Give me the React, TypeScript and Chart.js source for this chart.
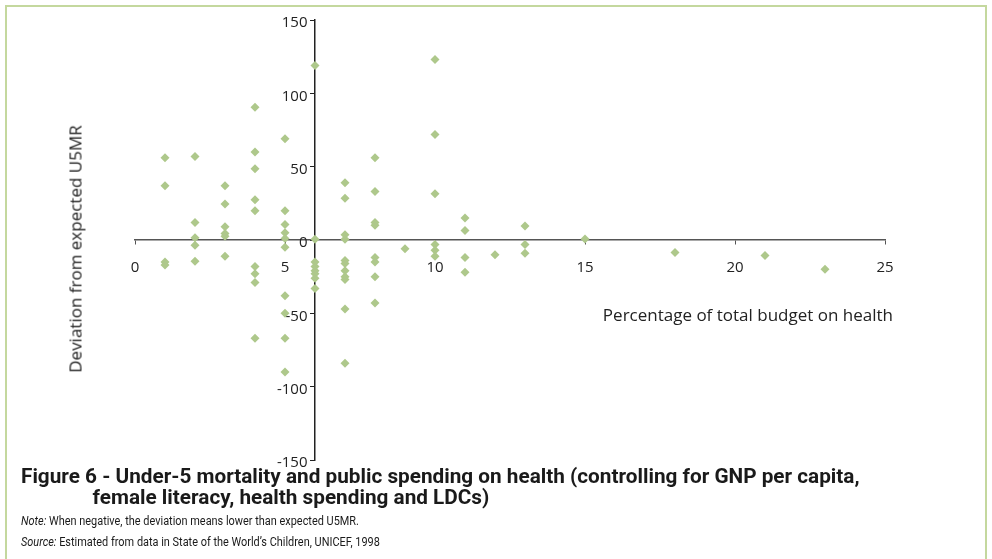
import React, { useEffect, useRef } from "react";
import { Chart, registerables } from "chart.js";

Chart.register(...registerables);

// Percentage of total budget on health (x) and deviation from expected U5MR (y)
const budgetPct: number[] = [
  1, 1, 1, 1,
  2, 2, 2, 2, 2,
  3, 3, 3, 3, 3, 3,
  4, 4, 4, 4, 4, 4, 4, 4, 4,
  5, 5, 5, 5, 5, 5, 5, 5, 5, 5,
  6, 6, 6, 6, 6, 6, 6, 6,
  7, 7, 7, 7, 7, 7, 7, 7, 7, 7, 7,
  8, 8, 8, 8, 8, 8, 8, 8,
  9,
  10, 10, 10, 10, 10, 10,
  11, 11, 11, 11,
  12,
  13, 13, 13,
  15,
  18,
  21,
  23,
];
const deviation: number[] = [
  56, 37, -15, -17,
  57, 12, 1.5, -3.5, -14.5,
  37, 24.5, 9, 4.5, 2.5, -11,
  90.5, 60, 48.5, 27.5, 20, -18, -23, -29, -67,
  69, 20, 10.5, 5, 1, -5, -38, -50, -67, -90,
  119, 0.5, -15, -18, -21, -23, -26, -33,
  39, 28.5, 3.5, 0.5, -14, -16, -21, -25, -27, -47, -84,
  56, 33, 12, 10, -12, -15, -25, -43,
  -6,
  123, 72, 31.5, -3, -7, -11,
  15, 6.5, -12, -22,
  -10,
  9.5, -3, -9,
  0.7,
  -8.5,
  -10.5,
  -20,
];

const xMin = 0;
const xMax = 25;
const xStep = 5;
const yMin = -150;
const yMax = 150;
const yStep = 50;
const yAxisCrossAt = 6;

const xTitle = "Percentage of total budget on health";
const yTitle = "Deviation from expected U5MR";
const captionLine1 =
  "Figure 6 - Under-5 mortality and public spending on health (controlling for GNP per capita,";
const captionLine2 = "female literacy, health spending and LDCs)";
const noteLabel = "Note:";
const noteText = " When negative, the deviation means lower than expected U5MR.";
const sourceLabel = "Source:";
const sourceText = " Estimated from data in State of the World’s Children, UNICEF, 1998";

export default function App() {
  const canvasRef = useRef<HTMLCanvasElement | null>(null);

  useEffect(() => {
    const canvas = canvasRef.current;
    if (!canvas) return;
    const points = budgetPct.map((x, i) => ({ x, y: deviation[i] }));
    const tickFont = { family: "'Open Sans', sans-serif", size: 15 };
    const chart = new Chart(canvas, {
      type: "scatter",
      data: {
        datasets: [
          {
            data: points,
            pointStyle: "rectRot",
            pointRadius: 4.5,
            pointBorderWidth: 0,
            backgroundColor: "#aec88b",
            borderColor: "#aec88b",
          },
        ],
      },
      options: {
        animation: false,
        responsive: false,
        devicePixelRatio: 1,
        layout: { padding: { left: 135, top: 20, right: 107, bottom: 99 } },
        plugins: {
          legend: { display: false },
          tooltip: { enabled: false },
        },
        scales: {
          x: {
            type: "linear",
            min: xMin,
            max: xMax,
            position: { y: 0 },
            grid: {
              drawOnChartArea: false,
              drawTicks: true,
              tickLength: 4,
              color: "#555",
            },
            border: { display: true, color: "#555", width: 1.5 },
            ticks: {
              stepSize: xStep,
              padding: 15,
              color: "#222",
              font: tickFont,
              maxRotation: 0,
            },
          },
          y: {
            type: "linear",
            min: yMin,
            max: yMax,
            position: { x: yAxisCrossAt },
            grid: {
              drawOnChartArea: false,
              drawTicks: true,
              tickLength: 4,
              color: "#222",
            },
            border: { display: true, color: "#222", width: 1.5 },
            ticks: {
              stepSize: yStep,
              labelOffset: 3,
              color: "#222",
              font: tickFont,
              callback: (v: any) => String(v) + "\u2002",
            },
          },
        },
      },
    });
    return () => chart.destroy();
  }, []);

  return (
    <div
      style={{
        position: "absolute",
        left: 0,
        top: 0,
        width: 992,
        height: 559,
        overflow: "hidden",
        background: "#fff",
      }}
    >
      <div
        style={{
          position: "absolute",
          left: 5,
          top: 5,
          width: 978,
          height: 600,
          border: "2px solid #c4d89e",
        }}
      />
      <canvas
        ref={canvasRef}
        width={992}
        height={559}
        style={{ position: "absolute", left: 0, top: 0, width: 992, height: 559 }}
      />
      <div
        style={{
          position: "absolute",
          left: 75,
          top: 249,
          transform: "translate(-50%, -50%) rotate(-90deg)",
          whiteSpace: "nowrap",
          fontFamily: "'Open Sans', sans-serif",
          fontSize: 17,
          color: "#222",
        }}
      >
        {yTitle}
      </div>
      <div
        style={{
          position: "absolute",
          right: 992 - 893,
          top: 303,
          whiteSpace: "nowrap",
          fontFamily: "'Open Sans', sans-serif",
          fontSize: 17,
          color: "#222",
        }}
      >
        {xTitle}
      </div>
      <div
        style={{
          position: "absolute",
          left: 21,
          top: 466,
          whiteSpace: "nowrap",
          fontFamily: "Roboto, sans-serif",
          fontWeight: 700,
          fontSize: 20,
          lineHeight: "21px",
          color: "#1a1a1a",
          transformOrigin: "left top",
          transform: "scaleX(1.037)",
        }}
      >
        <div>{captionLine1}</div>
        <div style={{ paddingLeft: 69 }}>{captionLine2}</div>
      </div>
      <div
        style={{
          position: "absolute",
          left: 21,
          top: 511,
          whiteSpace: "nowrap",
          fontFamily: "Roboto, sans-serif",
          fontSize: 12,
          lineHeight: "21px",
          color: "#1a1a1a",
          transformOrigin: "left top",
          transform: "scaleX(0.91)",
        }}
      >
        <div>
          <i>{noteLabel}</i>
          {noteText}
        </div>
        <div>
          <i>{sourceLabel}</i>
          {sourceText}
        </div>
      </div>
    </div>
  );
}
